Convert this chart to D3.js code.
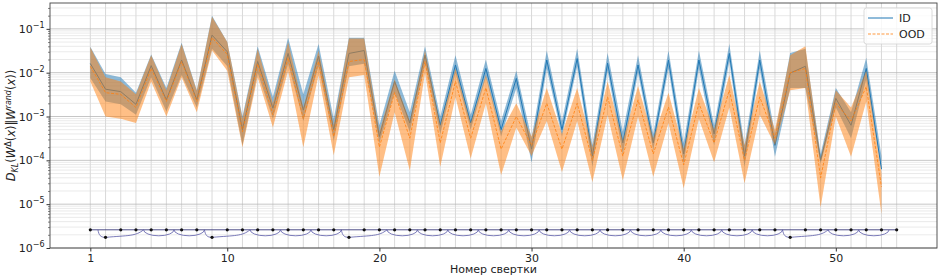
<!DOCTYPE html>
<html>
<head>
<meta charset="utf-8">
<script src="https://cdn.jsdelivr.net/npm/d3@7"></script>
<style>
body { margin: 0; background: #fff; }
svg { display: block; font-family: "DejaVu Sans", sans-serif; }
</style>
</head>
<body>
<svg></svg>
<script>
// layer index (conv number)
var layers = d3.range(1, 54);

// ID (in-distribution) mean and band
var idMean = [1.62e-2, 4.2e-3, 3.7e-3, 1.9e-3, 1.45e-2, 2.4e-3, 1.95e-2, 2.4e-3, 7.2e-2, 3.0e-2,
  5.0e-4, 1.8e-2, 1.55e-3, 2.75e-2, 1.4e-3, 2.4e-2, 5.0e-4, 2.75e-2, 3.2e-2, 3.5e-4,
  6.3e-3, 7.1e-4, 2.5e-2, 6.3e-4, 1.5e-2, 7.1e-4, 1.25e-2, 5.0e-4, 7.4e-3, 1.8e-4,
  1.95e-2, 5.0e-4, 2.1e-2, 1.25e-4, 1.65e-2, 2.5e-4, 1.5e-2, 2.5e-4, 1.95e-2, 1.4e-4,
  1.95e-2, 4.0e-4, 2.75e-2, 1.25e-4, 1.95e-2, 2.2e-4, 9.8e-3, 1.4e-2, 1.0e-4, 2.6e-3,
  6.3e-4, 1.25e-2, 6.3e-5];
var idLow = [7.6e-3, 2.2e-3, 1.9e-3, 1.1e-3, 7.9e-3, 1.3e-3, 8.9e-3, 1.6e-3, 3.5e-2, 1.4e-2,
  2.2e-4, 1.0e-2, 8.9e-4, 1.6e-2, 7.9e-4, 1.4e-2, 2.8e-4, 1.4e-2, 1.6e-2, 2.5e-4,
  3.5e-3, 4.5e-4, 1.6e-2, 4.0e-4, 1.0e-2, 5.0e-4, 7.9e-3, 3.5e-4, 4.5e-3, 8.9e-5,
  1.25e-2, 3.5e-4, 1.4e-2, 7.1e-5, 1.1e-2, 1.4e-4, 1.0e-2, 1.7e-4, 1.25e-2, 8.5e-5,
  1.25e-2, 2.2e-4, 1.8e-2, 7.1e-5, 1.25e-2, 1.2e-4, 4.5e-3, 4.5e-3, 8.5e-5, 1.6e-3,
  3.2e-4, 7.1e-3, 5.9e-5];
var idHigh = [3.9e-2, 9.3e-3, 7.9e-3, 3.5e-3, 2.6e-2, 4.5e-3, 4.8e-2, 4.0e-3, 2.0e-1, 5.0e-2,
  1.0e-3, 4.0e-2, 2.8e-3, 6.3e-2, 3.2e-3, 4.5e-2, 8.9e-4, 6.3e-2, 6.3e-2, 6.3e-4,
  1.1e-2, 1.25e-3, 4.0e-2, 1.0e-3, 2.5e-2, 1.1e-3, 2.0e-2, 7.9e-4, 1.1e-2, 3.2e-4,
  3.2e-2, 7.9e-4, 3.5e-2, 2.2e-4, 2.8e-2, 4.5e-4, 2.5e-2, 4.0e-4, 3.2e-2, 2.5e-4,
  3.2e-2, 6.3e-4, 4.5e-2, 2.2e-4, 3.2e-2, 4.0e-4, 2.8e-2, 3.5e-2, 1.4e-4, 4.5e-3,
  1.25e-3, 2.2e-2, 1.25e-4];

// OOD (out-of-distribution) mean and band
var oodMean = [1.4e-2, 3.5e-3, 3.2e-3, 1.6e-3, 1.25e-2, 2.2e-3, 1.8e-2, 2.2e-3, 6.3e-2, 2.6e-2,
  4.5e-4, 1.6e-2, 1.1e-3, 2.2e-2, 8.9e-4, 1.8e-2, 3.5e-4, 1.8e-2, 2.0e-2, 2.0e-4,
  3.5e-3, 3.2e-4, 1.8e-2, 2.5e-4, 6.3e-3, 3.2e-4, 4.5e-3, 1.8e-4, 1.0e-3, 2.2e-4,
  2.0e-3, 1.8e-4, 2.0e-3, 1.0e-4, 2.8e-3, 1.25e-4, 2.4e-3, 1.4e-4, 1.65e-3, 7.9e-5,
  2.0e-3, 2.5e-4, 4.0e-3, 1.0e-4, 2.8e-3, 3.2e-4, 1.0e-2, 1.25e-2, 4.0e-5, 2.0e-3,
  7.9e-4, 4.8e-3, 2.5e-5];
var oodLow = [6.3e-3, 1.0e-3, 8.9e-4, 7.1e-4, 6.3e-3, 1.0e-3, 7.9e-3, 1.25e-3, 3.2e-2, 1.1e-2,
  2.0e-4, 7.9e-3, 5.6e-4, 1.1e-2, 2.0e-4, 8.9e-3, 1.3e-4, 7.9e-3, 8.9e-3, 4.2e-5,
  1.25e-3, 5.9e-5, 1.0e-2, 7.1e-5, 2.8e-3, 1.1e-4, 2.0e-3, 4.6e-5, 5.6e-4, 1.25e-4,
  7.9e-4, 5.4e-5, 7.9e-4, 3.2e-5, 1.1e-3, 3.5e-5, 1.0e-3, 4.2e-5, 7.1e-4, 2.3e-5,
  8.9e-4, 9.1e-5, 1.6e-3, 3.0e-5, 1.1e-3, 2.2e-4, 4.0e-3, 4.5e-3, 8.5e-6, 1.0e-3,
  1.2e-4, 2.2e-3, 6.0e-6];
var oodHigh = [3.8e-2, 7.9e-3, 6.3e-3, 3.2e-3, 2.5e-2, 4.0e-3, 4.5e-2, 3.8e-3, 1.9e-1, 5.0e-2,
  8.9e-4, 3.5e-2, 2.0e-3, 5.0e-2, 1.6e-3, 3.2e-2, 6.3e-4, 6.0e-2, 6.0e-2, 4.5e-4,
  7.1e-3, 7.9e-4, 3.2e-2, 6.3e-4, 1.25e-2, 7.1e-4, 8.9e-3, 4.5e-4, 2.0e-3, 3.5e-4,
  4.5e-3, 4.0e-4, 4.5e-3, 2.0e-4, 6.3e-3, 2.8e-4, 5.0e-3, 3.2e-4, 3.5e-3, 1.8e-4,
  4.5e-3, 5.0e-4, 8.9e-3, 2.2e-4, 6.3e-3, 5.0e-4, 2.5e-2, 4.0e-2, 1.1e-4, 4.0e-3,
  1.6e-3, 1.1e-2, 5.0e-5];

var xTicks = [1, 10, 20, 30, 40, 50];
var yTicks = [1e-6, 1e-5, 1e-4, 1e-3, 1e-2, 1e-1];

// network sketch under the curves
var netNodes = d3.range(1, 55);
var dsNodes = [2, 9, 18, 47];
var dsSpans = [[1.5, 4.5], [8.5, 11.5], [17.5, 20.5], [46.5, 49.5]];
var skipStarts = [4.5, 6.5, 11.5, 13.5, 15.5, 20.5, 22.5, 24.5, 26.5, 28.5, 30.5, 32.5,
  34.5, 36.5, 38.5, 40.5, 42.5, 44.5, 49.5, 51.5];
var netLevel = 2.6e-6, netLow = 1.75e-6, netArc = 1.9e-6;

var width = 940, height = 278;
var mL = 50, mR = 937, mT = 3, mB = 248;

var svg = d3.select("svg").attr("width", width).attr("height", height);

var x = d3.scaleLinear().domain([-1.65, 56.65]).range([mL, mR]);
var y = d3.scaleLog().domain([1e-6, 0.389]).range([mB, mT]);

svg.append("defs").append("clipPath").attr("id", "clip")
  .append("rect").attr("x", mL).attr("y", mT)
  .attr("width", mR - mL).attr("height", mB - mT);

// grid
var minorY = [];
yTicks.forEach(function(t) {
  for (var k = 2; k < 10; k++) { if (t * k < 0.389) minorY.push(t * k); }
});
var grid = svg.append("g");
grid.selectAll(".vg").data(netNodes).enter().append("line")
  .attr("x1", d => x(d)).attr("x2", d => x(d))
  .attr("y1", mT).attr("y2", mB)
  .attr("stroke", "#cfcfcf").attr("stroke-width", 0.8);
grid.selectAll(".hm").data(minorY).enter().append("line")
  .attr("x1", mL).attr("x2", mR)
  .attr("y1", d => y(d)).attr("y2", d => y(d))
  .attr("stroke", "#dcdcdc").attr("stroke-width", 0.6);
grid.selectAll(".hM").data(yTicks).enter().append("line")
  .attr("x1", mL).attr("x2", mR)
  .attr("y1", d => y(d)).attr("y2", d => y(d))
  .attr("stroke", "#b8b8b8").attr("stroke-width", 0.8);

var plot = svg.append("g").attr("clip-path", "url(#clip)");

function band(lo, hi) {
  return d3.area().x((d, i) => x(layers[i])).y0((d, i) => y(lo[i])).y1((d, i) => y(hi[i]))(layers);
}
function line(vals) {
  return d3.line().x((d, i) => x(layers[i])).y((d, i) => y(vals[i]))(layers);
}

plot.append("path").attr("d", line(idMean)).attr("fill", "none")
  .attr("stroke", "#1f77b4").attr("stroke-width", 1);
plot.append("path").attr("d", band(idLow, idHigh)).attr("fill", "#1f77b4").attr("fill-opacity", 0.5);
plot.append("path").attr("d", line(oodMean)).attr("fill", "none")
  .attr("stroke", "#ff7f0e").attr("stroke-width", 0.8).attr("stroke-dasharray", "3,1.5");
plot.append("path").attr("d", band(oodLow, oodHigh)).attr("fill", "#ff7f0e").attr("fill-opacity", 0.5);

// network sketch
var net = svg.append("g");
var netColor = "#5a5aa8";
net.append("line")
  .attr("x1", x(1)).attr("x2", x(54)).attr("y1", y(netLevel)).attr("y2", y(netLevel))
  .attr("stroke", "#3c3c7a").attr("stroke-width", 0.9);
var rx = (x(2) - x(0)) / 2, ry = y(netArc) - y(netLevel);
net.selectAll(".arc").data(skipStarts).enter().append("path")
  .attr("d", d => "M" + x(d) + "," + y(netLevel) + " A" + rx + "," + ry + " 0 0 0 " + x(d + 2) + "," + y(netLevel))
  .attr("fill", "none").attr("stroke", netColor).attr("stroke-width", 0.8);
net.selectAll(".ds").data(dsSpans).enter().append("path")
  .attr("d", function(d) {
    var x0 = x(d[0]), xm = x(d[0] + 0.5), x1 = x(d[1]);
    var yl = y(netLevel), yd = y(netLow);
    return "M" + x0 + "," + yl + " C" + (x0 + 1) + "," + (yd - 2) + " " + (xm - 5) + "," + yd + " " + xm + "," + yd
      + " C" + (xm + (x1 - xm) * 0.6) + "," + (yd - 2) + " " + (x1 - 8) + "," + (yd - 1) + " " + x1 + "," + yl;
  })
  .attr("fill", "none").attr("stroke", netColor).attr("stroke-width", 0.8);
net.selectAll(".node").data(netNodes).enter().append("circle")
  .attr("cx", d => x(d))
  .attr("cy", d => dsNodes.indexOf(d) >= 0 ? y(netLow) : y(netLevel))
  .attr("r", 1.6).attr("fill", "#111");

// axes
var xAxis = svg.append("g").attr("transform", "translate(0," + mB + ")")
  .call(d3.axisBottom(x).tickValues(xTicks).tickSize(3.5).tickPadding(2.5).tickFormat(d3.format("d")));
xAxis.select(".domain").remove();
xAxis.selectAll("text").attr("font-size", 11).attr("fill", "#222").attr("font-family", "DejaVu Sans");
xAxis.selectAll("line").attr("stroke", "#333");

var yAxis = svg.append("g").attr("transform", "translate(" + mL + ",0)")
  .call(d3.axisLeft(y).tickValues(yTicks).tickSize(3.5).tickPadding(2).tickFormat(""));
yAxis.select(".domain").remove();
yAxis.selectAll("line").attr("stroke", "#333");
yAxis.selectAll(".tick text").each(function(d) {
  var t = d3.select(this).attr("font-size", 11).attr("fill", "#222").attr("font-family", "DejaVu Sans");
  t.append("tspan").text("10");
  t.append("tspan").attr("dy", -5).attr("font-size", 8).text("\u2212" + Math.round(-Math.log10(d)));
});
var yMinor = svg.append("g").attr("transform", "translate(" + mL + ",0)")
  .call(d3.axisLeft(y).tickValues(minorY).tickSize(2).tickFormat(""));
yMinor.select(".domain").remove();
yMinor.selectAll("line").attr("stroke", "#333").attr("stroke-width", 0.6);

svg.append("rect").attr("x", mL).attr("y", mT)
  .attr("width", mR - mL).attr("height", mB - mT)
  .attr("fill", "none").attr("stroke", "#444").attr("stroke-width", 0.9);

svg.append("text").attr("x", (mL + mR) / 2).attr("y", 273)
  .attr("text-anchor", "middle").attr("font-size", 11).attr("fill", "#222")
  .text("Номер свертки");

// y label: D_KL(W^Δ(x)||W^rand(x))
var ylab = svg.append("text")
  .attr("transform", "translate(15," + ((mT + mB) / 2) + ") rotate(-90)")
  .attr("text-anchor", "middle").attr("font-size", 11.5).attr("fill", "#222");
var parts = [["D", "i", 0], ["KL", "i", 3], ["(", "", 0], ["W", "i", 0], ["\u0394", "", -4],
  ["(", "", 0], ["x", "i", 0], [")", "", 0], ["\u2016", "", 0], ["W", "i", 0], ["rand", "i", -4],
  ["(", "", 0], ["x", "i", 0], [")", "", 0], [")", "", 0]];
var shift = 0;
parts.forEach(function(p) {
  ylab.append("tspan").text(p[0])
    .attr("font-style", p[1] ? "italic" : "normal")
    .attr("font-size", p[2] ? 8 : 11.5)
    .attr("dy", p[2] - shift);
  shift = p[2];
});

// legend
var lg = svg.append("g");
lg.append("rect").attr("x", 864).attr("y", 8).attr("width", 68).attr("height", 36).attr("rx", 2.5)
  .attr("fill", "#fff").attr("fill-opacity", 0.8).attr("stroke", "#d0d0d0").attr("stroke-width", 0.8);
lg.append("line").attr("x1", 868).attr("x2", 893).attr("y1", 18).attr("y2", 18)
  .attr("stroke", "#1f77b4").attr("stroke-width", 1);
lg.append("line").attr("x1", 868).attr("x2", 893).attr("y1", 34).attr("y2", 34)
  .attr("stroke", "#ff7f0e").attr("stroke-width", 0.8).attr("stroke-dasharray", "3,1.5");
lg.append("text").attr("x", 899).attr("y", 22).attr("font-size", 11).attr("fill", "#222").text("ID");
lg.append("text").attr("x", 899).attr("y", 38).attr("font-size", 11).attr("fill", "#222").text("OOD");
</script>
</body>
</html>
